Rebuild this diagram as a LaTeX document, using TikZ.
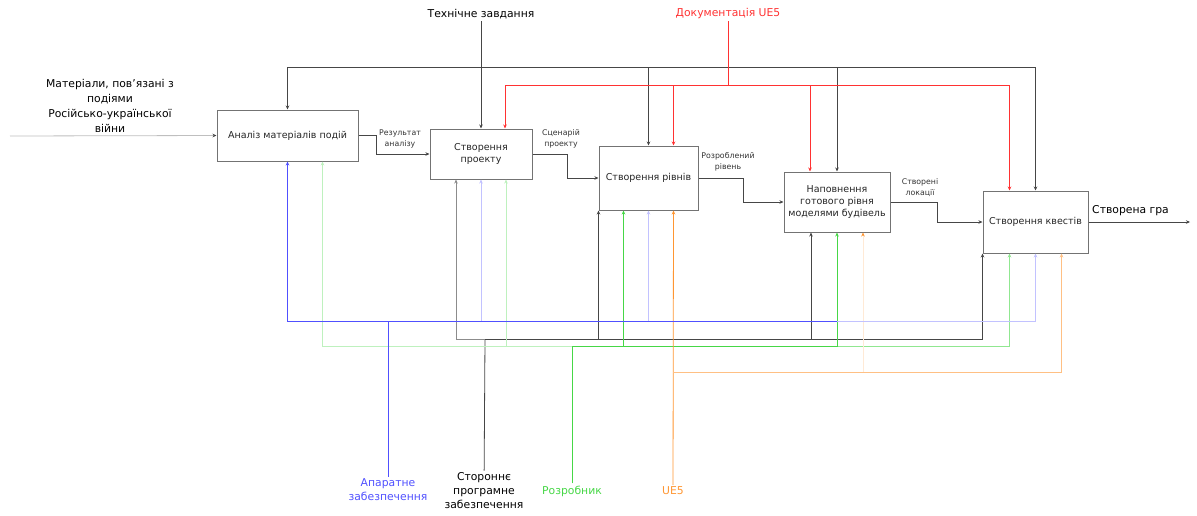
\documentclass[tikz,border=0pt]{standalone}
\usepackage{fontspec}
\setmainfont{DejaVu Sans}
\usetikzlibrary{arrows.meta,shadows}
\definecolor{linegray}{RGB}{70,70,70}
\definecolor{docred}{RGB}{255,50,50}
\definecolor{hwblue}{RGB}{80,80,255}
\definecolor{devgreen}{RGB}{70,215,70}
\definecolor{ueorange}{RGB}{255,150,50}

\begin{document}
\begin{tikzpicture}[x=1pt, y=-1pt, >={Stealth[length=4pt,width=3.5pt]}]
        \useasboundingbox (0,0) rectangle (1197,515);
        % function boxes
        \begin{scope}[every node/.style={draw=black!55, line width=1pt, fill=white, align=center, inner sep=2pt, font=\fontsize{9.5}{12}\selectfont, text=black!85, drop shadow={shadow xshift=1.2pt, shadow yshift=-1.2pt, opacity=0.3}}]
            \node [minimum width=141pt, minimum height=51pt] (A1) at (287.5,135.5) {Аналіз матеріалів подій};
            \node [minimum width=102pt, minimum height=50pt] (A2) at (481,154) {Створення\\проекту};
            \node [minimum width=99pt, minimum height=64pt] (A3) at (648.5,178) {Створення рівнів};
            \node [minimum width=106pt, minimum height=60pt] (A4) at (837,202) {Наповнення\\готового рівня\\моделями будівель};
            \node [minimum width=105pt, minimum height=62pt] (A5) at (1035.5,222) {Створення квестів};
        \end{scope}
        % labels
        \begin{scope}[every node/.style={align=center, inner sep=2pt, font=\fontsize{10.8}{14}\selectfont}]
            \node [font=\fontsize{10.8}{15}\selectfont] (mat) at (110,105.5) {Матеріали, пов'язані з\\подіями\\Російсько-української\\війни};
            \node (tz) at (481,14) {Технічне завдання};
            \node [text=docred] (doc) at (728,14) {Документація UE5};
            \node [text=hwblue] (hw) at (388,490) {Апаратне\\забезпечення};
            \node (sw) at (484,491) {Стороннє\\програмне\\забезпечення};
            \node [text=devgreen] (dev) at (572,491) {Розробник};
            \node [text=ueorange] (ue) at (673,491) {UE5};
            \node [anchor=west] (res) at (1090,211) {Створена гра};
        \end{scope}
        \begin{scope}[every node/.style={align=center, inner sep=1pt, font=\fontsize{7.8}{11}\selectfont, text=black!80}]
            \node (l12) at (400,139) {Результат\\аналізу};
            \node (l23) at (561,139) {Сценарій\\проекту};
            \node (l34) at (728,162) {Розроблений\\рівень};
            \node (l45) at (920,188) {Створені\\локації};
        \end{scope}
        % junction points
        \coordinate (inp) at (10,136);
        \coordinate (outp) at (1190,222);
        \coordinate (ktz) at (481,67);
        \coordinate (kdoc) at (728,85);
        \coordinate (khw) at (388,321);
        \coordinate (ksw) at (485,339);
        \coordinate (kdev) at (572,346);
        \coordinate (kue) at (673,372);
        % inputs and outputs
        \begin{scope}[every path/.style={draw=linegray, line width=0.8pt, ->}]
            \draw [draw=black!25, -{Stealth[length=4pt,width=3.5pt,color=linegray]}] (inp) -- (A1.west);
            \draw (A1.east) -- ++(18,0) |- (A2.west);
            \draw (A2.east) -- ++(35,0) |- (A3.west);
            \draw (A3.east) -- ++(45,0) |- (A4.west);
            \draw (A4.east) -- ++(47,0) |- (A5.west);
            \draw (A5.east) -- (outp);
        \end{scope}
        % controls
        \begin{scope}[every path/.style={line width=0.8pt, ->}]
            \draw [linegray] (tz) -- (A2.north);
            \draw [linegray] (ktz) -| (A1.north);
            \draw [linegray] (ktz) -| (A3.north);
            \draw [linegray] (ktz) -| (A4.north);
            \draw [linegray] (ktz) -| (A5.north);
            \draw [docred, -] (doc) -- (kdoc);
            \draw [docred] (kdoc) -| ([xshift=24pt]A2.north);
            \draw [docred] (kdoc) -| ([xshift=25pt]A3.north);
            \draw [docred] (kdoc) -| ([xshift=-27pt]A4.north);
            \draw [docred] (kdoc) -| ([xshift=-26pt]A5.north);
        \end{scope}
        % mechanisms
        \begin{scope}[every path/.style={line width=0.8pt, ->}]
            \draw [linegray, -] (sw) -- (ksw);
            \draw [black!45] (ksw) -| ([xshift=-25pt]A2.south);
            \draw [linegray] (ksw) -| (A3.south west);
            \draw [linegray] (ksw) -| ([xshift=-26pt]A4.south);
            \draw [linegray] (ksw) -| (A5.south west);
            \draw [devgreen, -] (dev) -- (kdev);
            \draw [devgreen!35] (kdev) -| ([xshift=35pt]A1.south);
            \draw [devgreen!35] (kdev) -| ([xshift=25pt]A2.south);
            \draw [devgreen!60] (kdev) -| ([xshift=-26pt]A5.south);
            \draw [devgreen] (kdev) -| ([xshift=-25pt]A3.south);
            \draw [devgreen] (kdev) -| (A4.south);
            \draw [ueorange] (ue) -- ([xshift=25pt]A3.south);
            \draw [ueorange!60] (kue) -| ([xshift=26pt]A5.south);
            \draw [ueorange!20, -{Stealth[length=4pt,width=3.5pt,color=ueorange]}] ([xshift=26pt]A4.south |- kue) -- ([xshift=26pt]A4.south);
            \draw [hwblue!35] (khw) -| (A5.south);
            \draw [hwblue!35] (khw) -| (A2.south);
            \draw [hwblue!35] (khw) -| (A3.south);
            \draw [hwblue, -] (hw) -- (khw);
            \draw [hwblue, -] (khw) -- (A4.south |- khw);
            \draw [hwblue] (khw) -| (A1.south);
        \end{scope}
    \end{tikzpicture}
\end{document}
